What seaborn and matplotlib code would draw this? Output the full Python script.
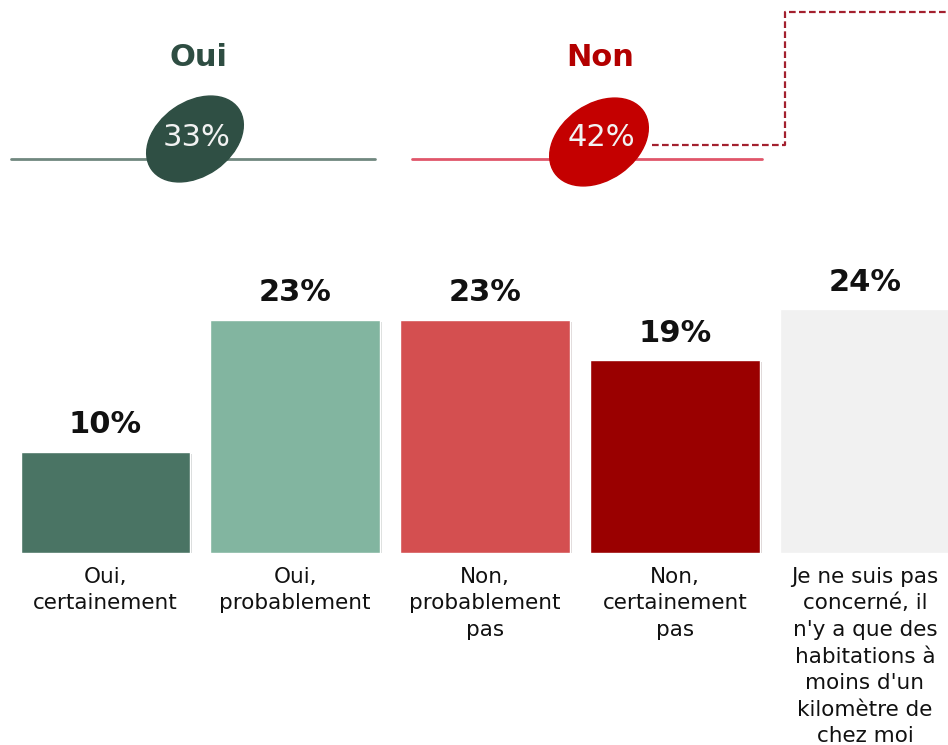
import matplotlib
matplotlib.use("Agg")
import matplotlib.pyplot as plt
from matplotlib.patches import Ellipse
import matplotlib.patheffects as pe
import seaborn as sns
import pandas as pd

categories = ["Oui, certainement", "Oui, probablement", "Non, probablement pas",
              "Non, certainement pas", "Je ne suis pas concerné"]
values = [10, 23, 23, 19, 24]
tick_labels = ["Oui,\ncertainement", "Oui,\nprobablement", "Non,\nprobablement\npas",
               "Non,\ncertainement\npas",
               "Je ne suis pas\nconcerné, il\nn'y a que des\nhabitations à\nmoins d'un\nkilomètre de\nchez moi"]
colors = ["#4a7464", "#82b5a0", "#d44f50", "#9a0000", "#f1f1f1"]
group_labels = ["Oui", "Non"]
group_values = ["33%", "42%"]

sns.set_theme(style="white")
plt.rcParams["font.family"] = ["DejaVu Sans"]

W, H = 948, 745
fig = plt.figure(figsize=(W / 100, H / 100), dpi=100)
base_px = 553
ax = fig.add_axes([0, (H - base_px) / H, 1, base_px / H])

df = pd.DataFrame({"cat": categories, "val": values})
sns.barplot(data=df, x="cat", y="val", hue="cat", palette=colors, width=0.89,
            saturation=1, legend=False, ax=ax, order=categories, hue_order=categories)
for p in ax.patches:
    p.set_path_effects([pe.SimplePatchShadow(offset=(1.5, -1.5), alpha=0.18), pe.Normal()])

ax.set_xlim(-0.553, 4.437)
ax.set_ylim(0, base_px / 10.15)
for s in ax.spines.values():
    s.set_visible(False)
ax.set_yticks([])
ax.set_xlabel("")
ax.set_ylabel("")
ax.set_xticks(range(len(categories)))
ax.set_xticklabels(tick_labels, fontsize=15.5, linespacing=1.41, color="#111111")
ax.tick_params(axis="x", length=0, pad=10)

for i, v in enumerate(values):
    ax.annotate(f"{v}%", (i, v), xytext=(0, 13), textcoords="offset points",
                ha="center", va="baseline", fontsize=22, fontweight="bold", color="#111111")

# top decorations
ov = fig.add_axes([0, 0, 1, 1], zorder=5)
ov.set_xlim(0, W)
ov.set_ylim(H, 0)
ov.axis("off")
ov.patch.set_alpha(0)

ov.plot([11, 375], [159, 159], color="#70877f", lw=2)
ov.plot([412, 762], [159, 159], color="#e0566a", lw=2)
ov.add_patch(Ellipse((195, 139), 106, 74, angle=-35, color="#2f4f44", zorder=3))
ov.add_patch(Ellipse((599, 142), 108, 76, angle=-35, color="#c40000", zorder=3))
ov.text(199, 57, group_labels[0], ha="center", va="center", fontsize=22,
        fontweight="bold", color="#2e4d42")
ov.text(600, 57, group_labels[1], ha="center", va="center", fontsize=22,
        fontweight="bold", color="#b30000")
ov.text(197, 137, group_values[0], ha="center", va="center", fontsize=22,
        color="#f2f2f2", zorder=4)
ov.text(601, 138, group_values[1], ha="center", va="center", fontsize=22,
        color="#f2f2f2", zorder=4)
ov.plot([652, 785, 785, 948], [145, 145, 12, 12], color="#a3202e", lw=1.6,
        linestyle=(0, (3, 1.5)))

fig.savefig("out.png", dpi=100)
